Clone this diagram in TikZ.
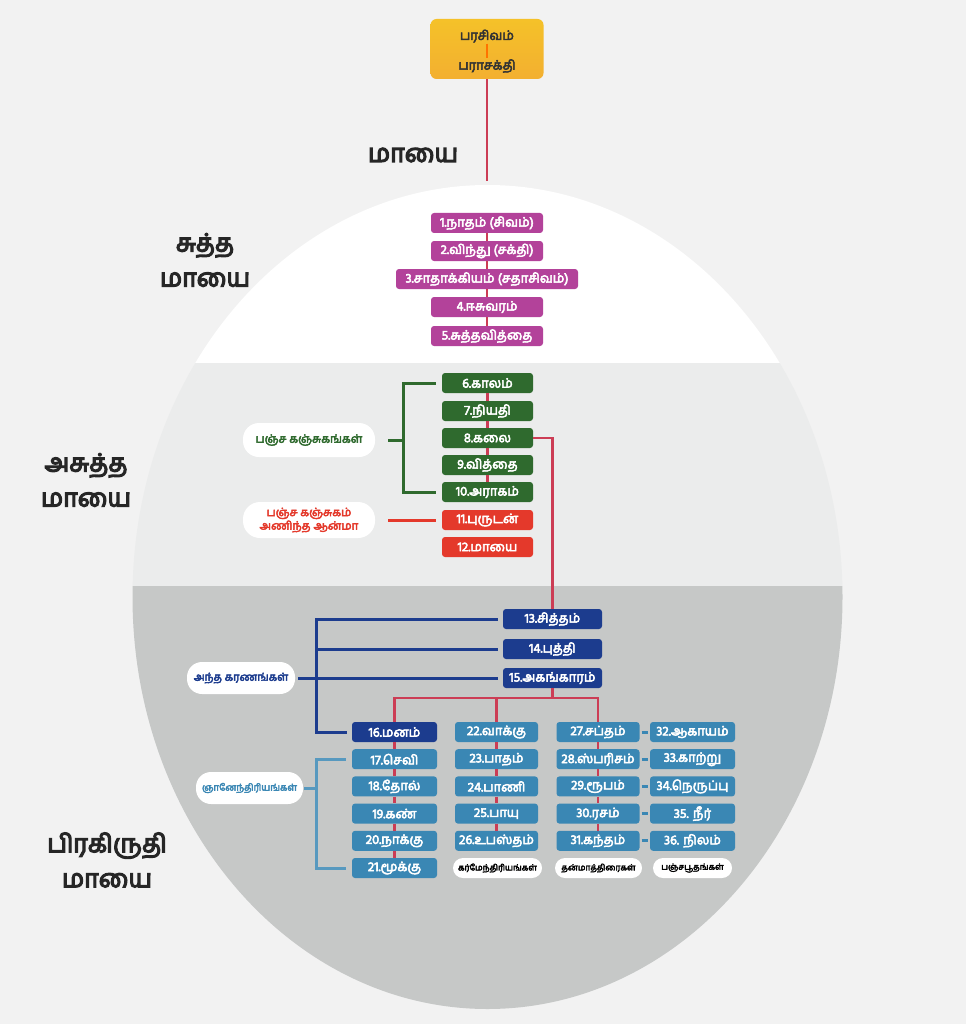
\documentclass[tikz,border=0pt]{standalone}
\usepackage{fontspec}
\newfontfamily\tam[Script=Tamil,FakeBold=4]{Hind Madurai}
\newfontfamily\tamhead[Script=Tamil,FakeBold=5]{Hind Madurai}
\definecolor{bgc}{HTML}{F2F2F2}
\definecolor{midband}{HTML}{EBECEC}
\definecolor{lowband}{HTML}{C6C8C7}
\definecolor{linkred}{HTML}{CC3D55}
\definecolor{gold}{HTML}{F2B233}
\definecolor{purp}{HTML}{B3429A}
\definecolor{grn}{HTML}{2F6A2E}
\definecolor{redbox}{HTML}{E4392B}
\definecolor{navy}{HTML}{1C3C8E}
\definecolor{teal}{HTML}{3A87B4}
\begin{document}
\begin{tikzpicture}[x=1pt,y=-1pt,
  box/.style={rounded corners=3pt,minimum height=20,inner sep=0pt,text=white,
    font=\tam\fontsize{13}{14}\selectfont},
  pill/.style={fill=white,rounded corners=10pt,inner sep=0pt,align=center,
    font=\tam\fontsize{11.5}{13.5}\selectfont},
  big/.style={align=center,text=black!85,font=\tamhead\fontsize{25}{35}\selectfont},
  redl/.style={linkred,line width=2.5},
  brk/.style={line width=3}]

\useasboundingbox (0,0) rectangle (966,1024);
\fill[bgc] (0,0) rectangle (966,1024);

% the three maya bands
\begin{scope}
\clip (487.5,597) ellipse [x radius=355, y radius=412];
\fill[white] (100,150) rectangle (900,363);
\fill[midband] (100,363) rectangle (900,586);
\fill[lowband] (100,586) rectangle (900,1050);
\end{scope}

\node[big] (lm) at (413,155) {மாயை};
\node[big] (ls) at (205,260) {சுத்த\\மாயை};
\node[big] (la) at (86,480) {அசுத்த\\மாயை};
\node[big] (lp) at (107,860) {பிரகிருதி\\மாயை};

% parasivam
\node[rounded corners=6pt,minimum width=113,minimum height=60,top color=gold!80!yellow,bottom color=gold!95!orange] (top) at (487,49) {};
\node[font=\tam\fontsize{13}{15}\selectfont,text=black!80,inner sep=1pt] (ps1) at (487,36) {பரசிவம்};
\node[font=\tam\fontsize{13}{15}\selectfont,text=black!80,inner sep=1pt] (ps2) at (487,66) {பராசக்தி};
\draw[orange!90!red,line width=2.5] (ps1) -- (ps2);
\coordinate (etop) at (487,181);
\draw[redl] (top) -- (etop);

% suththa maya
\foreach \n/\y/\w/\t in {p1/223/112/{1.நாதம் (சிவம்)},p2/251/112/{2.விந்து (சக்தி)},
  p3/279/182/{3.சாதாக்கியம் (சதாசிவம்)},p4/307/112/{4.ஈசுவரம்},p5/336/112/{5.சுத்தவித்தை}}
  \node[box,fill=purp,minimum width=\w] (\n) at (487,\y) {\t};
\foreach \a/\b in {p1/p2,p2/p3,p3/p4,p4/p5}
  \draw[redl] (\a) -- (\b);

% asuththa maya
\foreach \n/\y/\t in {g6/383/6.காலம்,g7/411/7.நியதி,g8/438/8.கலை,g9/465/9.வித்தை,g10/492/10.அராகம்}
  \node[box,fill=grn,minimum width=91] (\n) at (487.5,\y) {\t};
\foreach \n/\y/\t in {r11/520/11.புருடன்,r12/547/12.மாயை}
  \node[box,fill=redbox,minimum width=91] (\n) at (487.5,\y) {\t};
\foreach \a/\b in {g6/g7,g7/g8,g8/g9,g9/g10}
  \draw[redl] (\a) -- (\b);

\node[pill,text=grn,minimum width=132,minimum height=34,rounded corners=16pt] (pk) at (309,440) {பஞ்ச கஞ்சுகங்கள்};
\node[pill,text=redbox,minimum width=132,minimum height=36,rounded corners=17pt] (pa) at (309,520) {பஞ்ச கஞ்சுகம்\\அணிந்த ஆன்மா};
\coordinate (gb) at (403,440);
\draw[brk,grn] ([xshift=-6]g6.west) -| (gb |- g10.west) -- ([xshift=-6]g10.west);
\draw[brk,grn] ([xshift=13]pk.east) -- (gb);
\draw[brk,redbox] ([xshift=13]pa.east) -- ([xshift=-6]r11.west);

% pirakiruthi maya
\foreach \n/\y/\t in {n13/619/13.சித்தம்,n14/649/14.புத்தி,n15/678/15.அகங்காரம்}
  \node[box,fill=navy,minimum width=99] (\n) at (552.5,\y) {\t};
\draw[redl] (g8.east) -| (n13.north);

\node[box,fill=navy,minimum width=85] (m16) at (394.5,732) {16.மனம்};
\foreach \n/\i/\t in {j17/1/17.செவி,j18/2/18.தோல்,j19/3/19.கண்,j20/4/20.நாக்கு,j21/5/21.மூக்கு}
  \node[box,fill=teal,minimum width=85] (\n) at (394.5,732+27.2*\i) {\t};
\foreach \n/\i/\t in {k22/0/22.வாக்கு,k23/1/23.பாதம்,k24/2/24.பாணி,k25/3/25.பாயு,k26/4/26.உபஸ்தம்}
  \node[box,fill=teal,minimum width=83] (\n) at (496.5,732+27.2*\i) {\t};
\foreach \n/\i/\t in {t27/0/27.சப்தம்,t28/1/28.ஸ்பரிசம்,t29/2/29.ரூபம்,t30/3/30.ரசம்,t31/4/31.கந்தம்}
  \node[box,fill=teal,minimum width=83] (\n) at (598,732+27.2*\i) {\t};
\foreach \n/\i/\t in {b32/0/32.ஆகாயம்,b33/1/33.காற்று,b34/2/34.நெருப்பு,b35/3/{35. நீர்},b36/4/{36. நிலம்}}
  \node[box,fill=teal,minimum width=85] (\n) at (692.5,732+27.2*\i) {\t};

\node[pill,text=black,minimum width=89,minimum height=20,font=\tam\fontsize{8.5}{10}\selectfont] (pkr) at (497.5,868) {கர்மேந்திரியங்கள்};
\node[pill,text=black,minimum width=87,minimum height=20,font=\tam\fontsize{8.5}{10}\selectfont] (ptn) at (598.5,868) {தன்மாத்திரைகள்};
\node[pill,text=black,minimum width=79,minimum height=20,font=\tam\fontsize{8.5}{10}\selectfont] (ppb) at (692.5,868) {பஞ்சபூதங்கள்};
\node[pill,text=navy,minimum width=108,minimum height=32,rounded corners=15pt,font=\tam\fontsize{11}{13}\selectfont] (pak) at (241,678) {அந்த கரணங்கள்};
\node[pill,text=teal,minimum width=107,minimum height=32,rounded corners=15pt,font=\tam\fontsize{9.5}{11}\selectfont] (pgn) at (249.5,788) {ஞானேந்திரியங்கள்};

% red tree
\coordinate (rj) at (552.5,698);
\draw[redl] (n15.south) -- (rj);
\draw[redl] (m16.north) |- (t27.north |- rj) -- (t27.north);
\draw[redl] (k22.north) -- (k22.north |- rj);
\foreach \a/\b in {m16/j17,j17/j18,j18/j19,j19/j20,j20/j21,k22/k23,k23/k24,k24/k25,k25/k26,t27/t28,t28/t29,t29/t30,t30/t31}
  \draw[redl] (\a) -- (\b);
\foreach \a/\b in {t27/b32,t28/b33,t29/b34,t30/b35,t31/b36}
  \draw[brk,teal] ([xshift=2]\a.east) -- ([xshift=-2]\b.west);

% brackets
\coordinate (nb) at (316,678);
\draw[brk,navy] ([xshift=-5]n13.west) -| (nb |- m16.west) -- ([xshift=-5]m16.west);
\draw[brk,navy] ([xshift=-5]n14.west) -- (n14.west -| nb);
\draw[brk,navy] ([xshift=3]pak.east) -- ([xshift=-5]n15.west);
\coordinate (tb) at (316,788);
\draw[brk,teal!85!white] ([xshift=-6]j17.west) -| (tb |- j21.west) -- ([xshift=-6]j21.west);
\draw[brk,teal!85!white] ([xshift=1]pgn.east) -- (tb);

\end{tikzpicture}
\end{document}
